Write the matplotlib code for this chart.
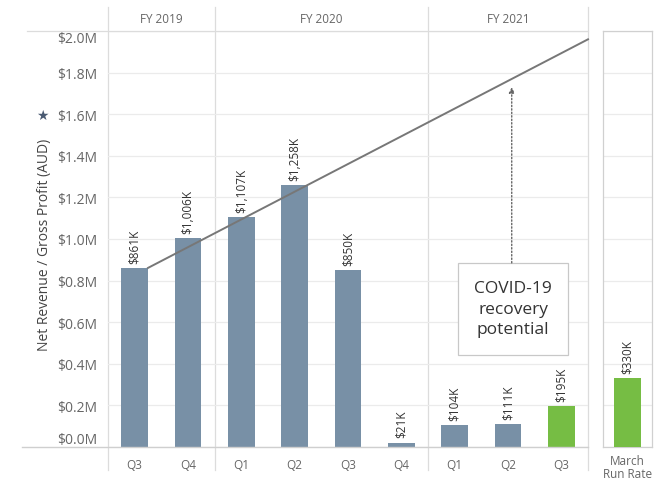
import matplotlib
matplotlib.use("Agg")
import matplotlib.pyplot as plt
import matplotlib.ticker as mticker
from matplotlib.patches import Rectangle
from matplotlib.lines import Line2D

plt.rcParams['font.family'] = ['Open Sans', 'DejaVu Sans']

# Dados
quarters = ["Q3", "Q4", "Q1", "Q2", "Q3", "Q4", "Q1", "Q2", "Q3"]
revenue_k = [861, 1006, 1107, 1258, 850, 21, 104, 111, 195]
bar_colors = ["#7890a6"] * 8 + ["#76bd44"]
years = ["FY 2019", "FY 2020", "FY 2021"]
year_spans = [(-0.5, 1.5), (1.5, 5.5), (5.5, 8.5)]
run_rate_label = "March\nRun Rate"
run_rate_k = 330
trend_x = [0.25, 8.5]
trend_m = [0.861, 1.96]
y_ticks = [0.0, 0.2, 0.4, 0.6, 0.8, 1.0, 1.2, 1.4, 1.6, 1.8, 2.0]

W, H = 662, 481
fig = plt.figure(figsize=(W / 100, H / 100), dpi=100)
fig.patch.set_facecolor("white")

def fx(px):
    return px / W

def fy(py):
    return 1 - py / H

grid_c = "#ebebeb"
sep_c = "#dcdcdc"
txt_c = "#666666"

# Painel principal
ax = fig.add_axes([fx(108), fy(448), fx(588) - fx(108), fy(32) - fy(448)])
x = list(range(len(quarters)))
vals = [v / 1000 for v in revenue_k]
ax.bar(x, vals, width=0.5, color=bar_colors, zorder=3)
ax.set_xlim(-0.5, 8.5)
ax.set_ylim(0, 2.0)
ax.set_yticks(y_ticks)
ax.yaxis.set_major_formatter(mticker.FuncFormatter(lambda v, _: f"${v:.1f}M"))
ax.tick_params(axis="y", length=0, labelsize=10, labelcolor=txt_c, pad=8)
ax.set_xticks(x)
ax.set_xticklabels(quarters)
ax.tick_params(axis="x", length=0, labelsize=8.5, labelcolor=txt_c, pad=8)
for lbl in ax.get_yticklabels():
    if lbl.get_text() == "$2.0M":
        lbl.set_va("top")
    elif lbl.get_text() == "$0.0M":
        lbl.set_va("bottom")
ax.grid(axis="y", color=grid_c, linewidth=0.9, zorder=0)
for s in ax.spines.values():
    s.set_visible(False)

# Rótulos das barras
for xi, v, k in zip(x, vals, revenue_k):
    ax.text(xi, v + 0.025, f"${k:,}K", rotation=90, ha="center", va="bottom",
            fontsize=8.5, color="#333333", zorder=4)

# Linha de tendência
ax.plot(trend_x, trend_m, color="#777777", linewidth=1.4, zorder=5, clip_on=False)

# Separadores e cabeçalho
for xs in [-0.5, 1.5, 5.5, 8.5]:
    ax.plot([xs, xs], [-0.055, 1.058], transform=ax.get_xaxis_transform(),
            color=sep_c, linewidth=0.9, clip_on=False, zorder=1)
for name, (a, b) in zip(years, year_spans):
    ax.text((a + b) / 2, 1.03, name, transform=ax.get_xaxis_transform(),
            ha="center", va="center", fontsize=8.5, color=txt_c)

fig.add_artist(Line2D([fx(27), fx(588)], [fy(32), fy(32)], color=sep_c, linewidth=0.9))
fig.add_artist(Line2D([fx(22), fx(588)], [fy(448), fy(448)], color="#cfcfcf", linewidth=1.0))

# Caixa COVID-19
ax.add_patch(Rectangle((6.06, 0.442), 2.07, 0.443, facecolor="white",
                       edgecolor="#c8c8c8", linewidth=0.9, zorder=6))
ax.text(7.095, 0.665, "COVID-19\nrecovery\npotential", ha="center", va="center",
        fontsize=12.5, color="#333333", linespacing=1.35, zorder=7)
ax.annotate("", xy=(7.07, 1.73), xytext=(7.07, 0.885),
            arrowprops=dict(arrowstyle="-|>", linestyle=(0, (1, 1.5)), color="#666666",
                            linewidth=1.0, mutation_scale=8, shrinkA=0, shrinkB=0),
            zorder=6)

# Título do eixo Y
fig.text(fx(45), fy(245), "Net Revenue / Gross Profit (AUD)", rotation=90,
         ha="center", va="center", fontsize=10, color="#444444")
fig.text(fx(42), fy(116), "\u2605", ha="center", va="center", fontsize=10,
         color="#4a5a72", family="DejaVu Sans")

# Painel March Run Rate
ax2 = fig.add_axes([fx(603), fy(448), fx(652) - fx(603), fy(32) - fy(448)])
ax2.bar([0], [run_rate_k / 1000], width=0.55, color="#76bd44", zorder=3)
ax2.set_xlim(-0.5, 0.5)
ax2.set_ylim(0, 2.0)
ax2.set_yticks(y_ticks)
ax2.set_yticklabels([])
ax2.tick_params(axis="y", length=0)
ax2.grid(axis="y", color=grid_c, linewidth=0.9, zorder=0)
ax2.set_xticks([0])
ax2.set_xticklabels([run_rate_label], linespacing=1.05)
ax2.tick_params(axis="x", length=0, labelsize=8.5, labelcolor=txt_c, pad=5)
ax2.text(0, run_rate_k / 1000 + 0.025, f"${run_rate_k}K", rotation=90, ha="center",
         va="bottom", fontsize=8.5, color="#333333", zorder=4)
for s in ax2.spines.values():
    s.set_color("#d0d0d0")
    s.set_linewidth(0.9)

fig.savefig("out.png", dpi=100)
